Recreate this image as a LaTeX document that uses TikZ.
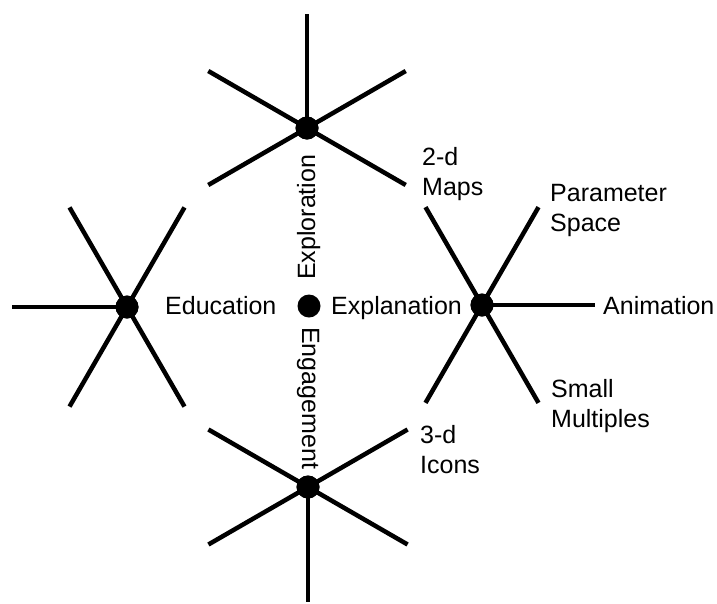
\documentclass[tikz,border=0pt]{standalone}
\usepackage{fontspec}
\setmainfont{Liberation Sans}
\usetikzlibrary{calc}
\begin{document}
\begin{tikzpicture}[x=1pt,y=1pt,
  hub/.style={circle,fill=black,inner sep=0pt,minimum size=23pt},
  ray/.style={line width=4.5pt},
  lbl/.style={inner sep=0pt,font=\fontsize{25}{30}\selectfont},
  mlbl/.style={lbl,align=left,anchor=north west}]
\useasboundingbox (0,0) rectangle (717,-603);
% hubs
\node[hub] (top) at (307,-128) {};
\node[hub] (bot) at (308,-487) {};
\node[hub] (lft) at (127,-307) {};
\node[hub] (rgt) at (482,-305) {};
\node[hub] (mid) at (309,-306) {};
% ray ends
\foreach \a in {210,330,90,30,150}{\coordinate (t\a) at ($(top.center)+(\a:114)$);}
\foreach \a in {210,330,270,30,150}{\coordinate (b\a) at ($(bot.center)+(\a:115)$);}
\foreach \a in {180,240,300,60,120}{\coordinate (l\a) at ($(lft.center)+(\a:115)$);}
\foreach \a in {0,240,300,60,120}{\coordinate (r\a) at ($(rgt.center)+(\a:113)$);}
\foreach \a in {210,330,90,30,150}{\draw[ray] (top.center) -- (t\a);}
\foreach \a in {210,330,270,30,150}{\draw[ray] (bot.center) -- (b\a);}
\foreach \a in {180,240,300,60,120}{\draw[ray] (lft.center) -- (l\a);}
\foreach \a in {0,240,300,60,120}{\draw[ray] (rgt.center) -- (r\a);}
\node[hub] at (top) {};
\node[hub] at (bot) {};
\node[hub] at (lft) {};
\node[hub] at (rgt) {};
% labels
\node[lbl,anchor=base west] (edu) at (165,-314) {Education};
\node[lbl,anchor=base west] (expl) at (331,-314) {Explanation};
\node[lbl,anchor=base west] (anim) at (603,-314) {Animation};
\node[lbl,anchor=base west,rotate=90] (explo) at (315,-280) {Exploration};
\node[lbl,anchor=base west,rotate=-90] (eng) at (302,-327) {Engagement};
\node[mlbl] (maps) at (422,-147) {2-d\\Maps};
\node[mlbl] (par) at (550,-184) {Parameter\\Space};
\node[mlbl] (small) at (551,-379) {Small\\Multiples};
\node[mlbl] (icons) at (420,-425) {3-d\\Icons};
\end{tikzpicture}
\end{document}
